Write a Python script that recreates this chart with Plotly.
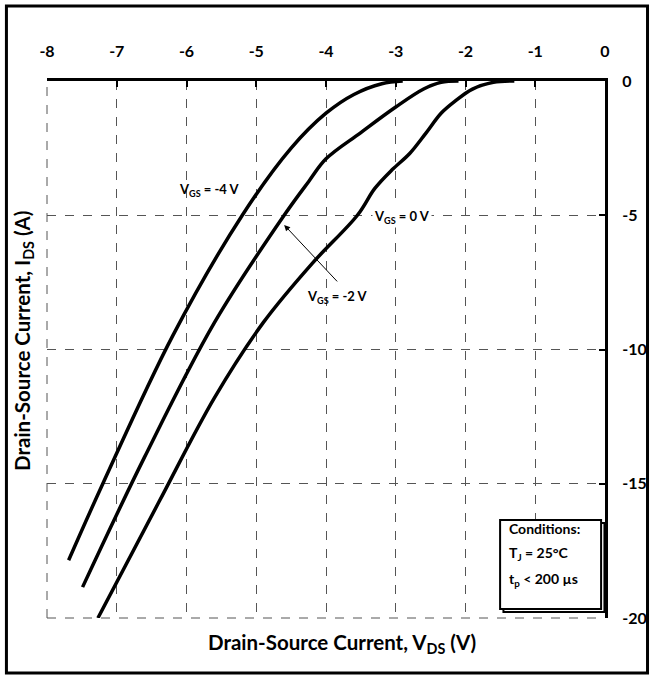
import plotly.graph_objects as go

# VGS = -4 V curve
v_m4 = [-2.9, -3.2, -3.6, -4.0, -4.5, -5.2, -6.2, -7.2, -7.69]
i_m4 = [0.0, -0.1, -0.5, -1.2, -2.5, -5.0, -9.5, -15.0, -17.85]
# VGS = -2 V curve
v_m2 = [-2.1, -2.35, -2.6, -3.0, -3.5, -4.0, -4.25, -4.6, -5.6, -6.6, -7.49]
i_m2 = [0.0, -0.05, -0.3, -0.97, -1.92, -2.9, -3.75, -5.0, -9.0, -14.0, -18.85]
# VGS = 0 V curve
v_0 = [-1.3, -1.6, -1.9, -2.15, -2.35, -2.57, -2.8, -3.05, -3.3, -3.55, -4.2, -4.9, -5.6, -6.4, -7.27]
i_0 = [0.0, -0.05, -0.3, -0.75, -1.2, -1.95, -2.7, -3.3, -4.0, -5.0, -6.8, -9.0, -11.8, -15.7, -20.0]

x_ticks = [-8, -7, -6, -5, -4, -3, -2, -1, 0]
y_ticks = [0, -5, -10, -15, -20]

FONT = "Lato, 'Liberation Sans Narrow', sans-serif"

fig = go.Figure()
for v, i in [(v_m4, i_m4), (v_m2, i_m2), (v_0, i_0)]:
    fig.add_trace(go.Scatter(x=v, y=i, mode="lines",
                             line=dict(color="black", width=3.5, shape="spline", smoothing=1.0),
                             showlegend=False, hoverinfo="skip"))

grid = dict(showgrid=True, gridcolor="#555555", griddash="dash", gridwidth=1, zeroline=False)
fig.update_xaxes(range=[-8, 0], side="top", tickvals=x_ticks, ticktext=[str(t) for t in x_ticks],
                 showline=True, linecolor="black", linewidth=3, ticks="inside", ticklen=6,
                 tickwidth=2, tickcolor="black", ticklabelstandoff=15,
                 tickfont=dict(family=FONT, size=16, color="black", weight="bold"), **grid)
fig.update_yaxes(range=[-20, 0], side="right", tickvals=y_ticks, ticktext=[str(t) for t in y_ticks],
                 showline=True, linecolor="black", linewidth=3, ticks="inside", ticklen=6,
                 tickwidth=2, tickcolor="black", ticklabelstandoff=11,
                 tickfont=dict(family=FONT, size=16, color="black", weight="bold"), **grid)

shapes = [
    # left / bottom dashed frame lines
    dict(type="line", xref="paper", yref="paper", x0=0, x1=0, y0=0, y1=1,
         line=dict(color="#555555", width=1, dash="dash")),
    dict(type="line", xref="paper", yref="paper", x0=0, x1=1, y0=0, y1=0,
         line=dict(color="#555555", width=1, dash="dash")),
    # outer frame
    dict(type="rect", xref="paper", yref="paper", x0=-0.0727, x1=1.0762, y0=-0.1024, y1=1.1397,
         line=dict(color="black", width=3)),
    # conditions box shadow
    dict(type="rect", xref="paper", yref="paper", x0=0.818, x1=0.999, y0=0.011, y1=0.177,
         line=dict(color="black", width=2), fillcolor="white"),
    # conditions box
    dict(type="rect", xref="paper", yref="paper", x0=0.812, x1=0.993, y0=0.0168, y1=0.1825,
         line=dict(color="black", width=2), fillcolor="white"),
]

lab = dict(family=FONT, size=13, color="black", weight="bold")
cond = dict(family=FONT, size=14, color="black", weight="bold")
title_font = dict(family=FONT, size=20.5, color="black", weight="bold")
annotations = [
    dict(x=-5.67, y=-4.06, xref="x", yref="y", text="V<sub>GS</sub> = -4 V", showarrow=False, font=lab),
    dict(x=-2.91, y=-5.07, xref="x", yref="y", text="V<sub>GS</sub> = 0 V", showarrow=False,
         font=lab, bgcolor="white"),
    dict(x=-3.83, y=-8.04, xref="x", yref="y", text="V<sub>GS</sub> = -2 V", showarrow=False, font=lab),
    dict(x=-4.6, y=-5.36, ax=-3.82, ay=-7.52, xref="x", yref="y", axref="x", ayref="y",
         text="", showarrow=True, arrowhead=2, arrowsize=1.2, arrowwidth=1, arrowcolor="black"),
    dict(x=0.824, y=0.147, xref="paper", yref="paper", xanchor="left", text="Conditions:",
         showarrow=False, font=cond),
    dict(x=0.824, y=0.0987, xref="paper", yref="paper", xanchor="left", text="T<sub>J</sub> = 25°C",
         showarrow=False, font=cond),
    dict(x=0.824, y=0.050, xref="paper", yref="paper", xanchor="left", text="t<sub>p</sub> < 200 µs",
         showarrow=False, font=cond),
    dict(x=0.528, y=-0.076, xref="paper", yref="paper", text="Drain-Source Current, V<sub>DS</sub> (V)",
         showarrow=False, font=title_font),
    dict(x=-0.069, y=0.516, xref="paper", yref="paper", textangle=-90,
         text="Drain-Source Current, I<sub>DS</sub> (A)", showarrow=False, font=title_font),
]

fig.update_layout(width=659, height=677, margin=dict(l=47, r=48, t=81, b=59),
                  plot_bgcolor="white", paper_bgcolor="white",
                  shapes=shapes, annotations=annotations)
fig.write_html("out.html")
